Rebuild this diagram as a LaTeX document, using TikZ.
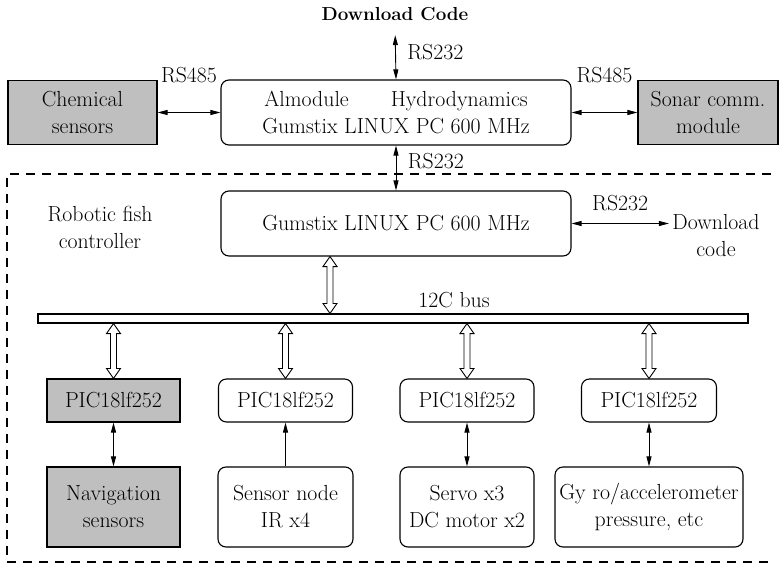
\documentclass[tikz,border=0pt]{standalone}
\usepackage{fontspec}
\usepackage{tikz}
\usetikzlibrary{arrows.meta, calc}

% hollow double arrow between two points above each other
\newcommand{\hollowarrow}[2]{%
  \draw[line width=0.9pt, fill=white] let \p1=(#1), \p2=(#2) in
    (\x1,\y1) -- (\x1+7pt,\y1-10pt) -- (\x1+3pt,\y1-10pt) -- (\x1+3pt,\y2+10pt)
    -- (\x1+7pt,\y2+10pt) -- (\x1,\y2) -- (\x1-7pt,\y2+10pt) -- (\x1-3pt,\y2+10pt)
    -- (\x1-3pt,\y1-10pt) -- (\x1-7pt,\y1-10pt) -- cycle;}

\begin{document}
\begin{tikzpicture}[x=1pt, y=-1pt,
    font=\fontsize{21.8}{27}\selectfont,
    >={Triangle[length=10pt,width=5pt]},
    box/.style={draw, line width=1.1pt, rounded corners=8pt, align=center, inner sep=0pt},
    graybox/.style={draw, line width=1.1pt, fill=black!25, align=center, inner sep=0pt},
    link/.style={line width=0.9pt, <->},
    uplink/.style={line width=0.9pt, ->}
]
\useasboundingbox (0,0) rectangle (781,564);

% Top board with its modules
\node[box, minimum width=350pt, minimum height=65pt] (gumtop) at (396,112.5)
    {Almodule\hspace{42pt}Hydrodynamics\\Gumstix LINUX PC 600 MHz};
\node[font=\fontsize{18.8}{27}\selectfont\bfseries] (dlcode) at (395,14) {Download Code};
\node[graybox, minimum width=149pt, minimum height=64pt] (chem) at (82.5,112.5) {Chemical\\sensors};
\node[graybox, minimum width=140pt, minimum height=64pt] (sonar) at (708,112.5) {Sonar comm.\\module};

% Links of the top board
\draw[link, shorten >=11pt] (gumtop.north) -- (dlcode.south) node[midway, right=8pt] {RS232};
\draw[link] (chem.east) -- (gumtop.west) node[midway, yshift=37pt] {RS485};
\draw[link] (gumtop.east) -- (sonar.west) node[midway, yshift=37pt] {RS485};

% Robotic fish controller (dashed frame)
\draw[line width=1.2pt, dash pattern=on 9pt off 7pt] (771,174) -| (7,562) -- (771,562);
\node[align=center] (robot) at (100,227) {Robotic fish\\controller};

\node[box, minimum width=350pt, minimum height=65pt] (gumlow) at (396,223.5) {Gumstix LINUX PC 600 MHz};
\node[align=center] (dlboard) at (716,236) {Download\\code};
\draw[link] (gumtop.south) -- (gumlow.north) node[pos=0.35, right=8pt] {RS232};
\draw[link] (gumlow.east) -- (gumlow.east -| dlboard.west) node[midway, yshift=20pt] {RS232};

% I2C bus
\node[draw, line width=1.1pt, minimum width=710pt, minimum height=9pt, inner sep=0pt] (bus) at (393,318.5) {};
\node (buslabel) at (454,300) {12C bus};
\coordinate (tap) at ([xshift=-66pt]gumlow.south);
\hollowarrow{tap}{tap |- bus.north}

% PIC controllers
\node[graybox, minimum width=133pt, minimum height=43pt] (pic1) at (113.5,400.5) {PIC18lf252};
\node[box, minimum width=134pt, minimum height=43pt] (pic2) at (285.5,400.5) {PIC18lf252};
\node[box, minimum width=134pt, minimum height=43pt] (pic3) at (467,400.5) {PIC18lf252};
\node[box, minimum width=135pt, minimum height=43pt] (pic4) at (649,400.5) {PIC18lf252};

\hollowarrow{pic1.north |- bus.south}{pic1.north}
\hollowarrow{pic2.north |- bus.south}{pic2.north}
\hollowarrow{pic3.north |- bus.south}{pic3.north}
\hollowarrow{pic4.north |- bus.south}{pic4.north}

% Devices
\node[graybox, minimum width=133pt, minimum height=80pt] (nav) at (113.5,507) {Navigation\\sensors};
\node[box, minimum width=135pt, minimum height=80pt] (irnode) at (285.5,507) {Sensor node\\IR x4};
\node[box, minimum width=134pt, minimum height=80pt] (motors) at (467,507) {Servo x3\\DC motor x2};
\node[box, minimum width=188pt, minimum height=80pt] (gyro) at (649,507) {Gy ro/accelerometer\\pressure, etc};

\draw[link] (pic1.south) -- (nav.north);
\draw[uplink] (irnode.north) -- (pic2.south);
\draw[link] (pic3.south) -- (motors.north);
\draw[link] (pic4.south) -- (gyro.north);

\end{tikzpicture}
\end{document}
